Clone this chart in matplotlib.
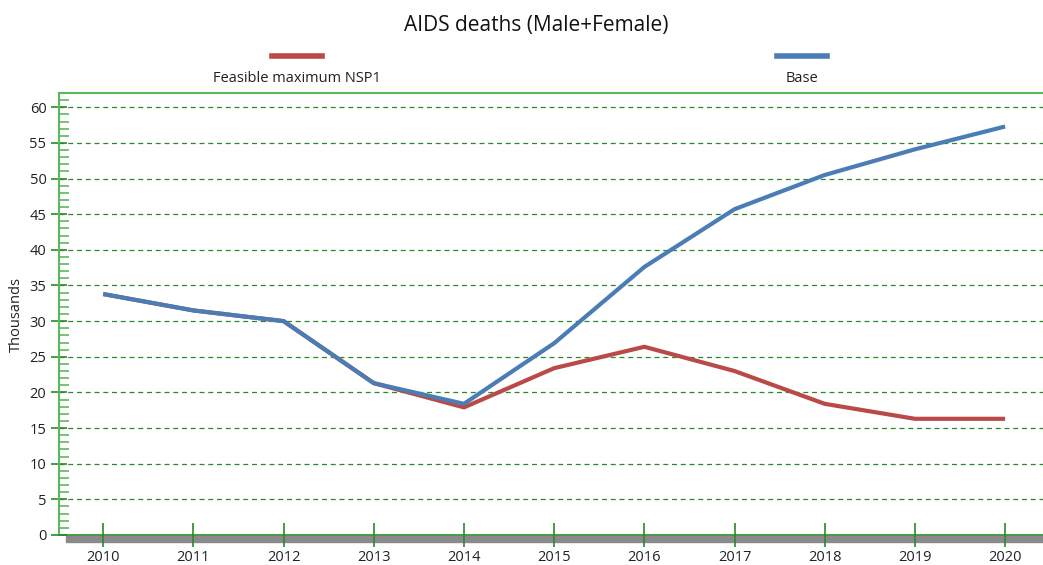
import numpy as np
import matplotlib.pyplot as plt
from matplotlib.patches import Rectangle
from matplotlib.lines import Line2D
from matplotlib.ticker import MultipleLocator

years = [2010, 2011, 2012, 2013, 2014, 2015, 2016, 2017, 2018, 2019, 2020]
base = [33.8, 31.5, 30.0, 21.3, 18.4, 26.9, 37.6, 45.7, 50.5, 54.1, 57.3]
nsp1 = [33.8, 31.5, 30.0, 21.3, 17.9, 23.4, 26.4, 23.0, 18.4, 16.3, 16.3]
series_names = ['Feasible maximum NSP1', 'Base']
series_colors = ['#b94a48', '#4a7db5']

plt.rcParams['font.family'] = ['Open Sans', 'DejaVu Sans']

W, H = 1043, 565
fig = plt.figure(figsize=(W / 100, H / 100), dpi=100)
ax = fig.add_axes([59 / W, 30 / H, (W - 59) / W, (535 - 93) / H])

ax.plot(years, nsp1, color=series_colors[0], lw=3, solid_capstyle='butt', zorder=3)
ax.plot(years, base, color=series_colors[1], lw=3, solid_capstyle='butt', zorder=4)

ax.set_xlim(2009.51, 2020.42)
ax.set_ylim(0, 62)
ax.set_xticks(years)
ax.yaxis.set_major_locator(MultipleLocator(5))
ax.yaxis.set_minor_locator(MultipleLocator(1))

for v in range(5, 61, 5):
    ax.axhline(v, color='#2a8a2a', lw=0.9, ls=(0, (4, 3)), zorder=1)

ax.spines['right'].set_visible(False)
ax.spines['left'].set_color('#5cb85c')
ax.spines['top'].set_color('#5cb85c')
ax.spines['bottom'].set_color('#2a8a2a')
ax.spines['left'].set_linewidth(1.5)
ax.spines['top'].set_linewidth(1.5)
ax.spines['bottom'].set_linewidth(1.2)

ax.tick_params(axis='y', which='major', direction='inout', length=12, width=1.2,
               color='#2a8a2a', labelsize=10.5, pad=3, labelcolor='#222222')
ax.tick_params(axis='y', which='minor', direction='in', length=7, width=1.2,
               color='#5cb85c')
ax.tick_params(axis='x', which='major', direction='inout', length=17, width=1.2,
               color='#2a8a2a', labelsize=10.5, pad=2, labelcolor='#222222')

# grey band under the x axis
fig.add_artist(Rectangle((66 / W, (565 - 542) / H), (W - 66) / W, 6 / H,
                         transform=fig.transFigure, color='#8a8a8a', zorder=0))

ax.set_ylabel('Thousands', fontsize=10.5, color='#222222', labelpad=4)
fig.text(536 / W, 1 - 25 / H, 'AIDS deaths (Male+Female)', ha='center', va='center',
         fontsize=15, color='#111111')

# legend: short line above each label
leg_x = [297, 802]
for name, col, lx in zip(series_names, series_colors, leg_x):
    fig.add_artist(Line2D([(lx - 25) / W, (lx + 25) / W], [1 - 56 / H, 1 - 56 / H],
                          color=col, lw=4, transform=fig.transFigure))
    fig.text(lx / W, 1 - 79 / H, name, ha='center', va='center', fontsize=10.5,
             color='#222222')

fig.savefig('out.png', dpi=100)
